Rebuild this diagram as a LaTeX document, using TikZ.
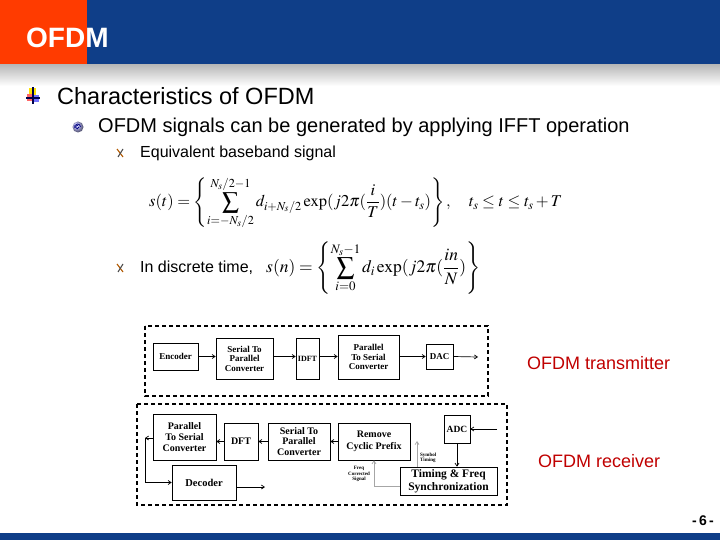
\documentclass[tikz,border=0pt]{standalone}
\usepackage{amsmath}
\usepackage{mathptmx}
\usepackage{fontspec}
\setmainfont{Liberation Serif}
\newfontfamily\arial{Liberation Sans}
\newfontfamily\serifblk{Liberation Serif}
\usetikzlibrary{arrows.meta}
\definecolor{hdrblue}{HTML}{0F3E88}
\definecolor{hdrred}{HTML}{FF3B00}
\definecolor{lblred}{HTML}{C00000}
\tikzset{
  blk/.style={draw, line width=0.7pt, align=center, inner sep=1pt,
    font=\serifblk\bfseries\fontsize{9}{9.5}\selectfont},
  dbox/.style={draw, line width=1.1pt, dash pattern=on 4pt off 3pt},
  arr/.style={-{Straight Barb[length=3pt,width=4pt]}, line width=0.7pt},
  garr/.style={arr, draw=gray!70},
  tiny/.style={font=\serifblk\bfseries\fontsize{5}{5.5}\selectfont, align=center, inner sep=0pt},
  lbl/.style={text=lblred, font=\arial\fontsize{18}{20}\selectfont, anchor=west, inner sep=0pt},
  txt/.style={anchor=west, inner sep=0pt}
}
\newcommand{\xmark}[2]{%
  \draw[line width=1.1pt, orange!70!black] (#1-3,#2-4) -- (#1+3,#2+4);
  \draw[line width=1.1pt, black!70] (#1+3,#2-4) -- (#1-2,#2+4);}
\begin{document}
\begin{tikzpicture}[x=1pt,y=-1pt]
\useasboundingbox (0,0) rectangle (720,540);
% header
\fill[hdrblue] (0,0) rectangle (720,65);
\fill[hdrred] (0,0) rectangle (87,65);
\shade[top color=gray!55, bottom color=white] (0,65) rectangle (720,86);
\node[txt, text=white, font=\arial\bfseries\fontsize{28}{30}\selectfont] (title) at (26,38) {OFDM};
% footer
\fill[hdrblue] (0,533) rectangle (720,540);
\node[anchor=east, font=\arial\bfseries\fontsize{14}{15}\selectfont, inner sep=0pt] (pg) at (714,521) {-\,6\,-};
% bullet 1 icon
\fill[yellow!85!orange] (29,88) rectangle (36,95);
\fill[red!60] (27,94) rectangle (33,101);
\fill[blue!55] (32,95) rectangle (39,102);
\draw[line width=1.2pt, blue!30!black] (33,87) -- (33,104);
\draw[line width=1.2pt, blue!30!black] (26,98) -- (40,98);
\node[txt, font=\arial\fontsize{23.5}{25}\selectfont] (b1) at (57,96) {Characteristics of OFDM};
% bullet 2 icon
\shade[ball color=blue!25] (78,127) circle (5.5);
\draw[line width=0.8pt, blue!50!black] (79,127) arc (0:300:1.8) ;
\draw[line width=0.8pt, blue!50!black] (80.5,127) arc (0:-200:3);
\node[txt, font=\arial\fontsize{20}{22}\selectfont] (b2) at (98,127) {OFDM signals can be generated by applying IFFT operation};
% bullet 3
\xmark{120}{153}
\node[txt, font=\arial\fontsize{16}{18}\selectfont] (b3) at (140,153) {Equivalent baseband signal};
\node[txt, font=\fontsize{16.5}{18}\selectfont] (eq1) at (149,203)
 {$\displaystyle s(t)=\left\{\sum_{i=-N_s/2}^{N_s/2-1} d_{i+N_s/2}\exp(j2\pi(\frac{i}{T})(t-t_s)\right\},\quad t_s\le t\le t_s+T$};
% bullet 4
\xmark{120}{268}
\node[txt, font=\arial\fontsize{16}{18}\selectfont] (b4) at (140,268) {In discrete time,};
\node[txt, font=\fontsize{17.5}{19}\selectfont] (eq2) at (266,268)
 {$\displaystyle s(n)=\left\{\sum_{i=0}^{N_s-1} d_i\exp(j2\pi(\frac{in}{N})\right\}$};
% transmitter
\draw[dbox] (145,326) rectangle (488,396);
\node[blk, minimum width=45pt, minimum height=27pt] (enc) at (175.5,356.5) {Encoder};
\node[blk, minimum width=57pt, minimum height=41pt] (sp) at (244.5,358.5) {Serial To\\Parallel\\Converter};
\node[blk, minimum width=23pt, minimum height=41pt, font=\serifblk\bfseries\fontsize{8}{9}\selectfont] (idft) at (307.5,358.5) {IDFT};
\node[blk, minimum width=61pt, minimum height=44pt] (ps) at (368.5,357) {Parallel\\To Serial\\Converter};
\node[blk, minimum width=27pt, minimum height=25pt] (dac) at (439.5,356.5) {DAC};
\coordinate (tout) at (478,357);
\draw[arr] (enc.east) -- (enc.east -| sp.west);
\draw[arr] (sp.east |- enc.east) -- (enc.east -| idft.west);
\draw[arr] (idft.east |- enc.east) -- (enc.east -| ps.west);
\draw[arr] (ps.east |- enc.east) -- (enc.east -| dac.west);
\draw[arr] (dac.east |- enc.east) -- (tout);
\node[lbl] (txl) at (527,363) {OFDM transmitter};
% receiver
\draw[dbox] (137,404) rectangle (507,505);
\node[blk, minimum width=63pt, minimum height=46pt, font=\serifblk\bfseries\fontsize{10}{11}\selectfont] (rps) at (184.5,437) {Parallel\\To Serial\\Converter};
\node[blk, minimum width=34pt, minimum height=37pt, font=\serifblk\bfseries\fontsize{10}{11}\selectfont] (dft) at (241,441.5) {DFT};
\node[blk, minimum width=62pt, minimum height=37pt, font=\serifblk\bfseries\fontsize{10}{10.5}\selectfont] (rsp) at (299,441.5) {Serial To\\Parallel\\Converter};
\node[blk, minimum width=72pt, minimum height=37pt, font=\serifblk\bfseries\fontsize{10}{12}\selectfont] (rcp) at (374,441.5) {Remove\\Cyclic Prefix};
\node[blk, minimum width=26pt, minimum height=28pt, font=\serifblk\bfseries\fontsize{9.5}{11}\selectfont] (adc) at (457,429) {ADC};
\node[blk, minimum width=97pt, minimum height=28pt, font=\serifblk\bfseries\fontsize{11.5}{12.5}\selectfont] (tfs) at (448.5,481) {Timing \& Freq\\Synchronization};
\node[blk, minimum width=64pt, minimum height=35pt, font=\serifblk\bfseries\fontsize{10.5}{11}\selectfont] (dec) at (204,482.5) {Decoder};
\coordinate (rin) at (497,429);
\coordinate (lft) at (145,438);
\coordinate (st) at (417,441);
\coordinate (dout) at (265,487);
\draw[arr] (rin) -- (adc.east);
\draw[arr] (adc.south) -- (adc.south |- tfs.north);
\draw[garr] ([yshift=-5pt]tfs.west) -| (rcp.south);
\draw[garr] (st |- tfs.north) -- (st);
\draw[arr] (rcp.west) -- (rcp.west -| rsp.east);
\draw[arr] (rsp.west) -- (rsp.west -| dft.east);
\draw[arr] (dft.west) -- (dft.west -| rps.east);
\draw[arr] (rps.west |- lft) -- (lft);
\draw[arr] (lft) |- (dec.west);
\draw[arr] (dout -| dec.east) -- (dout);
\node[tiny, anchor=east] (fcs) at (370,474) {Freq\\Corrected\\Signal};
\node[tiny, anchor=west, align=left] (stl) at (420,458) {Symbol\\Timing};
\node[lbl] (rxl) at (538,461) {OFDM receiver};
\end{tikzpicture}
\end{document}
